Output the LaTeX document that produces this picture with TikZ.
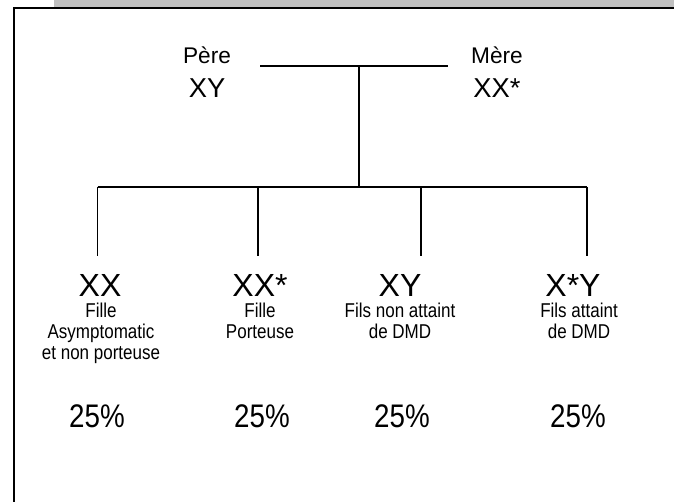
\documentclass[tikz,border=0pt]{standalone}
\usepackage{fontspec}
\setmainfont{Liberation Sans}
\newfontfamily\narrowf[FakeStretch=0.85]{Liberation Sans}
\definecolor{bandgray}{HTML}{C0C0C0}
\begin{document}
\begin{tikzpicture}[x=0.75pt,y=-0.75pt,
  biglab/.style={font=\fontsize{24}{28}\selectfont, anchor=base, inner sep=0pt},
  parname/.style={font=\fontsize{17}{20}\selectfont, anchor=base, inner sep=0pt},
  pargeno/.style={font=\fontsize{20.5}{24}\selectfont, anchor=base, inner sep=0pt},
  desc/.style={font=\narrowf\fontsize{15}{15.6}\selectfont, align=center, anchor=north, inner sep=0pt},
  pct/.style={font=\narrowf\fontsize{24.5}{28}\selectfont, anchor=base, inner sep=0pt},
  tree/.style={line width=1.35pt},
  framel/.style={line width=1.5pt}]
\useasboundingbox (0,0) rectangle (674,502);
% frame
\fill[bandgray] (54,0) rectangle (674,7);
\draw[framel] (13.5,502) -- (13.5,8) -- (674,8);
% parents
\node[parname] (pere) at (207,64) {Père};
\node[pargeno] (pxy) at (207,98) {XY};
\node[parname] (mere) at (497,64) {Mère};
\node[pargeno] (mxx) at (497,98) {XX*};
% junctions
\coordinate (pl) at (260,66);
\coordinate (pr) at (448,66);
\coordinate (pj) at (359,66);
\coordinate (cj) at (359,187);
\coordinate (b1) at (97.5,187);
\coordinate (b2) at (258,187);
\coordinate (b3) at (421,187);
\coordinate (b4) at (587,187);
\coordinate (e1) at (97.5,256);
\coordinate (e2) at (258,256);
\coordinate (e3) at (421,256);
\coordinate (e4) at (587,256);
\draw[tree] (pl) -- (pr);
\draw[tree] (pj) -- (cj);
\draw[tree] (b1) -- (b4);
\draw[tree] (b1) -- (e1);
\draw[tree] (b2) -- (e2);
\draw[tree] (b3) -- (e3);
\draw[tree] (b4) -- (e4);
% children
\node[biglab] (c1) at (100,296) {XX};
\node[biglab] (c2) at (260,296) {XX*};
\node[biglab] (c3) at (400,296) {XY};
\node[biglab] (c4) at (573,296) {X*Y};
\node[desc] (d1) at (101,303) {Fille\\Asymptomatic\\et non porteuse};
\node[desc] (d2) at (260,303) {Fille\\Porteuse};
\node[desc] (d3) at (400,303) {Fils non attaint\\de DMD};
\node[desc] (d4) at (579,303) {Fils attaint\\de DMD};
\node[pct] (p1) at (97,427) {25\%};
\node[pct] (p2) at (262,427) {25\%};
\node[pct] (p3) at (402,427) {25\%};
\node[pct] (p4) at (578,427) {25\%};
\end{tikzpicture}
\end{document}
